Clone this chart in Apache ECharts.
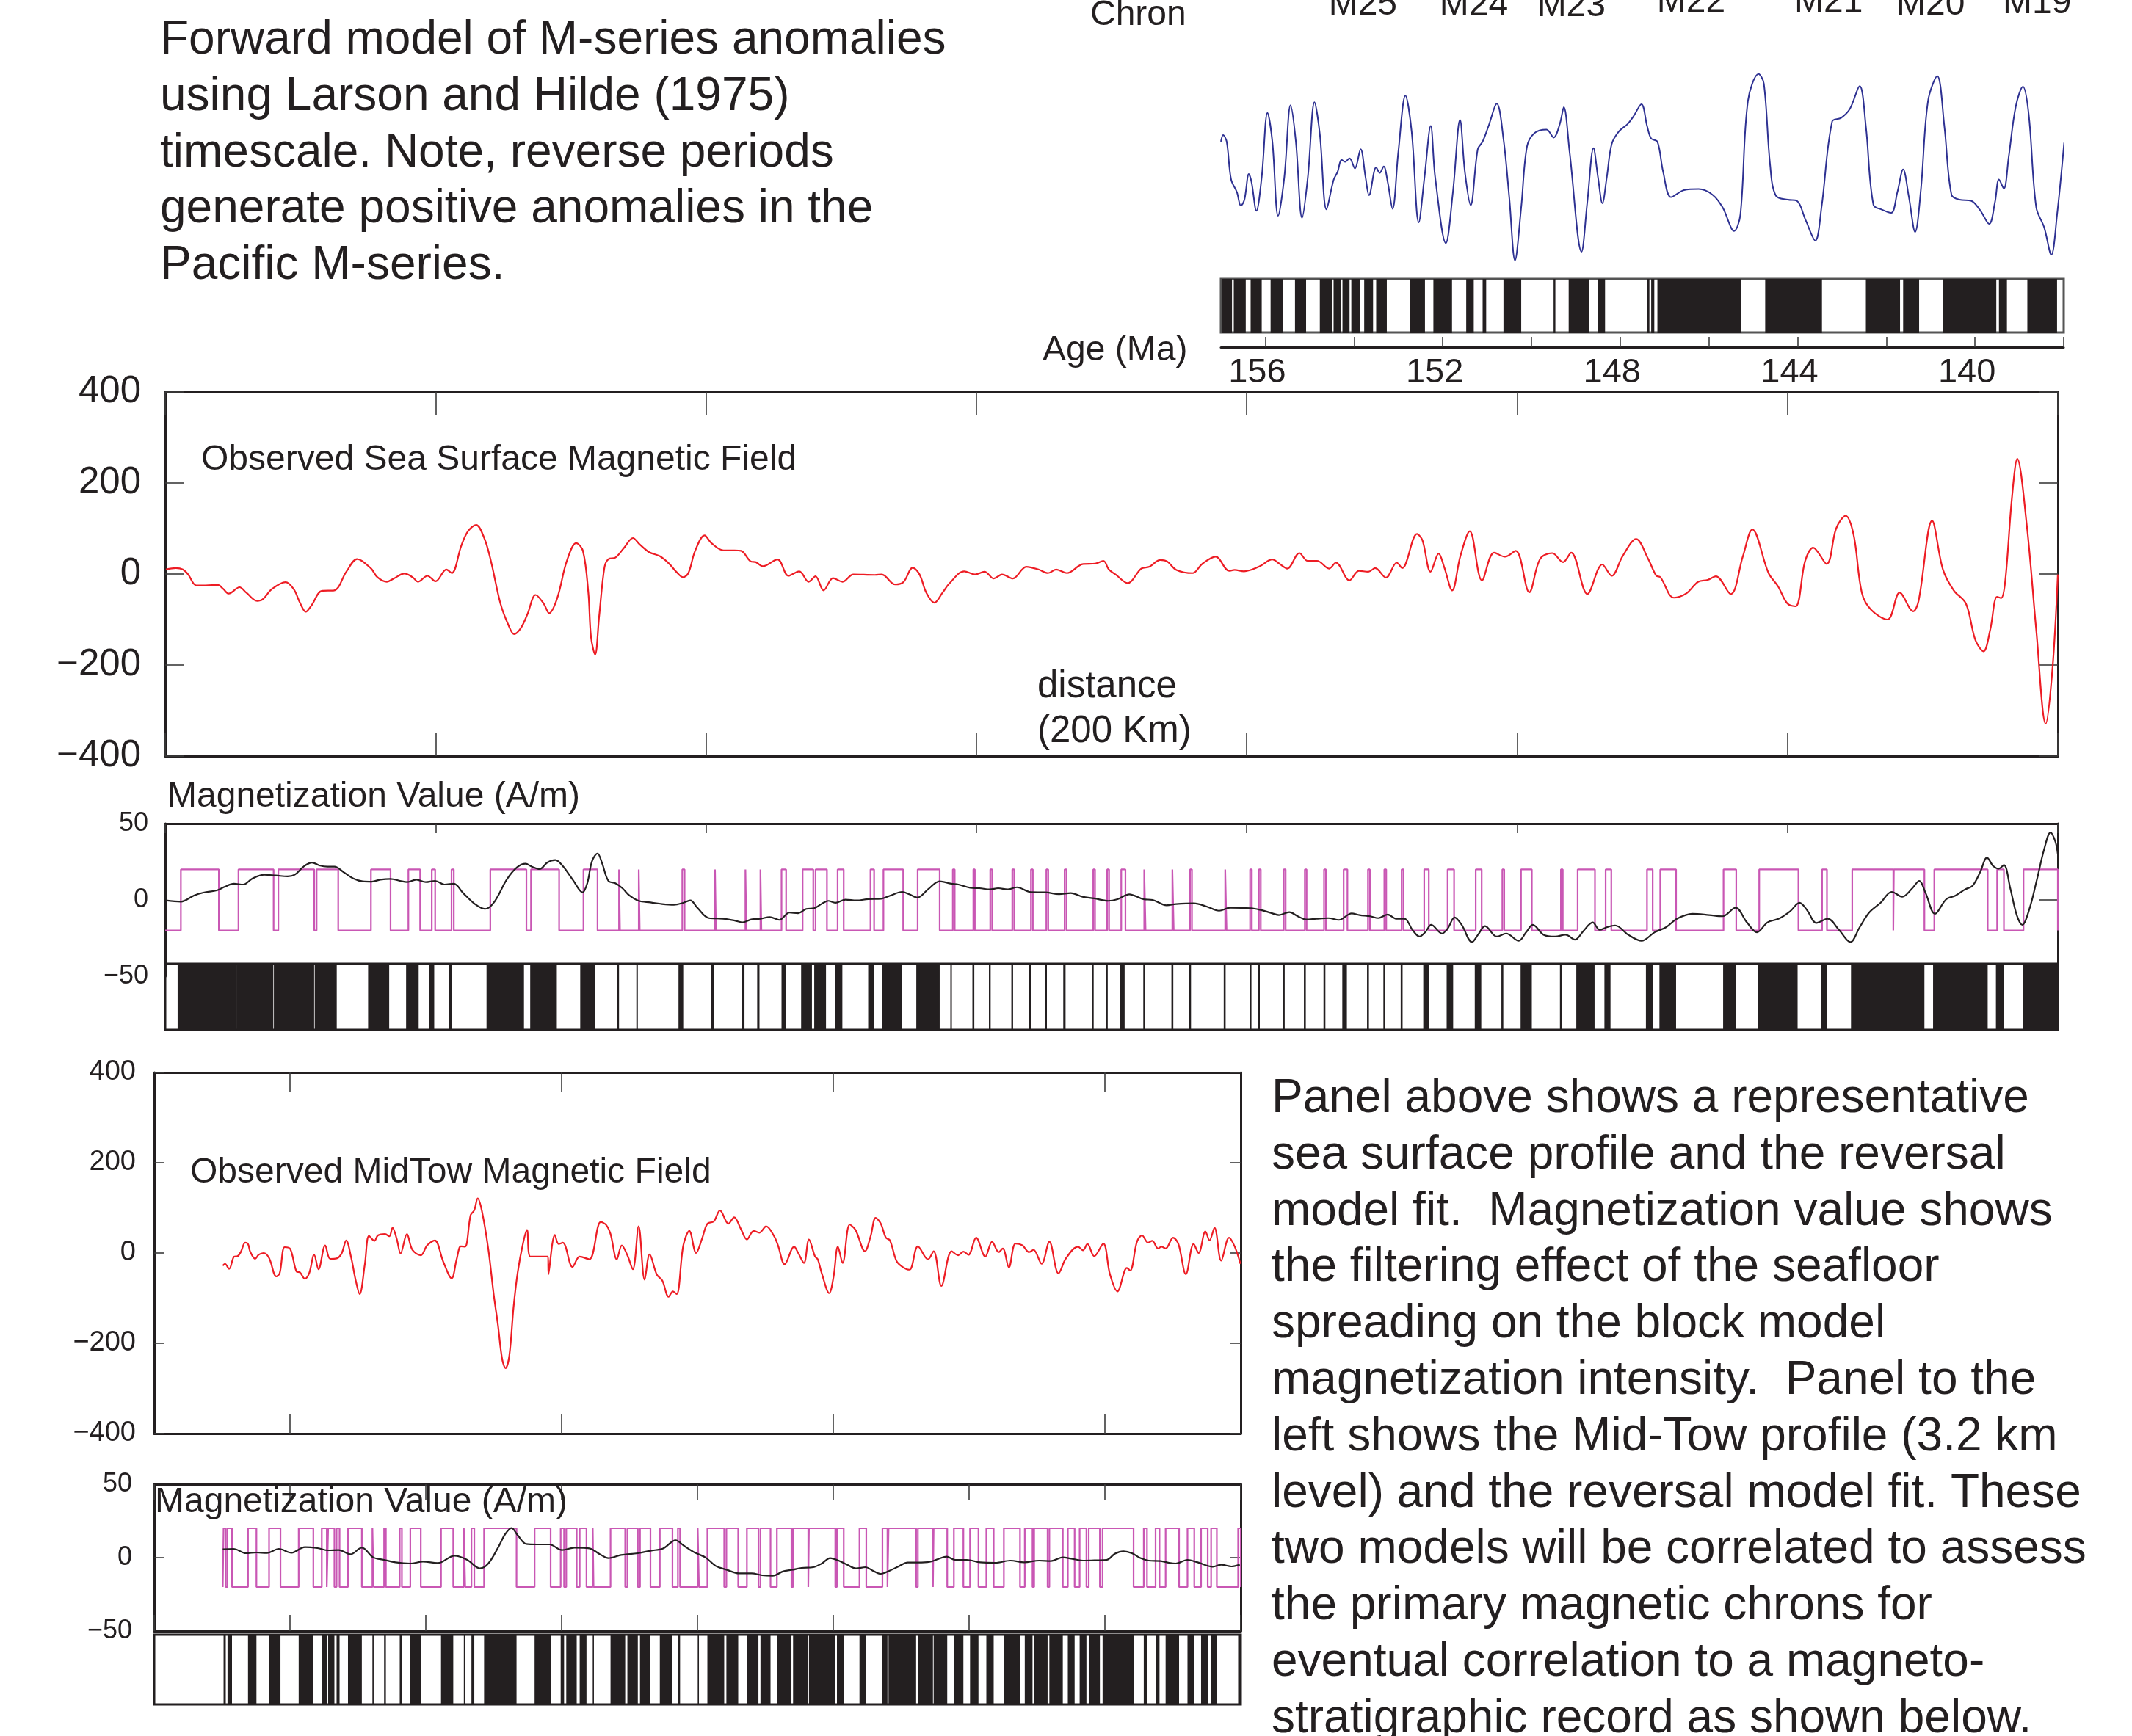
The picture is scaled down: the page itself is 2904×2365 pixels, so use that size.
<!DOCTYPE html>
<html>
<head>
<meta charset="utf-8">
<script src="https://cdn.jsdelivr.net/npm/echarts@6/dist/echarts.min.js"></script>
<style>
  html, body { margin: 0; padding: 0; background: #fff; }
  #chart { width: 2904px; height: 2365px; }
</style>
</head>
<body>
<div id="chart"></div>
<script>
// ---------------------------------------------------------------------------
// Data
// ---------------------------------------------------------------------------

// Chron names and their age positions (Ma) on the timescale strip
const chronNames = ['M25', 'M24', 'M23', 'M22', 'M21', 'M20', 'M19'];
const chronAges = [153.8, 151.3, 149.1, 146.4, 143.3, 141.0, 138.6];
const chronBaselineShift = [4, 5, 6, 0, 0, 4, 2];

// Age axis ticks (Ma)
const ageTicks = [138, 140, 142, 144, 146, 148, 150, 152, 154, 156];
const ageLabels = [140, 144, 148, 152, 156];

// Forward-model anomaly on the Larson & Hilde timescale: [age Ma, nT]
const modelAnomaly = [
  [157.00, 45], [156.95, 58], [156.87, 45], [156.77, -30], [156.64, -55], [156.55, -82],
  [156.47, -70], [156.37, -19], [156.31, -35], [156.20, -92], [156.08, -25], [155.95, 102],
  [155.84, 45], [155.71, -102], [155.57, -25], [155.43, 117], [155.31, 45], [155.17, -106],
  [155.04, -25], [154.89, 123], [154.77, 60], [154.62, -89], [154.46, -31], [154.37, -15],
  [154.28, 9], [154.20, 5], [154.10, 12], [153.98, -8], [153.85, 30], [153.74, -25],
  [153.66, -61], [153.50, -6], [153.42, -17], [153.33, -4], [153.24, -35], [153.13, -88],
  [153.00, 25], [152.84, 136], [152.70, 65], [152.54, -115], [152.41, -25], [152.27, 76],
  [152.17, -25], [151.93, -156], [151.77, -55], [151.61, 88], [151.50, -15], [151.37, -81],
  [151.21, 30], [151.10, 45], [150.97, 75], [150.78, 120], [150.63, 50], [150.50, -65],
  [150.37, -190], [150.23, -85], [150.10, 35], [149.93, 62], [149.66, 69], [149.50, 53],
  [149.36, 80], [149.27, 113], [149.14, 25], [148.87, -173], [148.74, -75], [148.60, 32],
  [148.50, -25], [148.40, -77], [148.30, -25], [148.19, 40], [148.03, 65], [147.83, 80],
  [147.70, 95], [147.52, 119], [147.39, 75], [147.30, 51], [147.16, 45], [147.03, -15],
  [146.85, -65], [146.56, -51], [146.23, -49], [145.92, -60], [145.69, -85], [145.43, -132],
  [145.29, -100], [145.12, 125], [144.88, 179], [144.76, 160], [144.62, 0], [144.49, -62],
  [144.22, -70], [144.02, -72], [143.82, -110], [143.60, -151], [143.46, -85], [143.22, 85],
  [143.02, 92], [142.82, 110], [142.60, 155], [142.46, 75], [142.29, -80], [142.09, -90],
  [141.89, -96], [141.75, -55], [141.62, -10], [141.49, -65], [141.35, -134], [141.22, -50],
  [141.06, 125], [140.85, 175], [140.69, 75], [140.53, -60], [140.35, -70], [140.09, -72],
  [139.89, -90], [139.68, -118], [139.55, -75], [139.46, -30], [139.35, -48], [139.24, 15],
  [139.08, 115], [138.92, 154], [138.79, 100], [138.62, -85], [138.44, -125], [138.28, -179],
  [138.15, -100], [137.99, 43]
];

// Reversed-polarity intervals of the timescale: [older Ma, younger Ma]
const timescaleReversed = [
  [156.97, 156.75], [156.71, 156.44], [156.33, 156.08], [155.88, 155.60], [155.33, 155.08],
  [154.77, 154.50], [154.46, 154.30], [154.26, 154.10], [154.06, 153.86], [153.77, 153.57],
  [153.50, 153.26], [152.74, 152.40], [152.21, 151.79], [151.47, 151.30], [151.10, 151.02],
  [150.63, 150.23], [149.50, 149.46], [149.16, 148.70], [148.50, 148.34], [147.39, 147.34],
  [147.30, 147.23], [147.16, 145.28], [144.73, 143.45], [142.46, 141.69], [141.62, 141.26],
  [140.73, 139.52], [139.46, 139.28], [138.82, 138.15]
];

// Sea-surface profile: [distance km, nT]
const seaSurfaceField = [
  [0.5, 10], [8, 13], [13, 10], [17, -1], [23, -25], [30, -25], [39, -24], [43, -33], [47, -43],
  [55, -29], [60, -41], [68, -59], [72, -56], [79, -33], [89, -18], [95, -33], [100, -65],
  [104, -83], [108, -70], [116, -37], [125, -36], [134, 5], [142, 33], [152, 13], [157, -7],
  [164, -17], [169, -10], [177, 1], [183, -7], [187, -17], [194, -4], [200, -16], [208, 10],
  [212, 2], [219, 62], [224, 94], [230, 108], [236, 79], [241, 28], [248, -65], [254, -113],
  [258, -132], [263, -119], [268, -88], [274, -46], [280, -65], [284, -86], [290, -53],
  [297, 28], [304, 68], [309, 51], [313, -41], [315, -139], [318, -177], [321, -93], [325, 16],
  [328, 33], [333, 36], [339, 56], [346, 79], [351, 65], [358, 48], [366, 39], [373, 22],
  [378, 5], [383, -7], [387, 2], [392, 51], [399, 85], [404, 68], [413, 52], [421, 52],
  [426, 51], [433, 28], [437, 26], [442, 17], [453, 32], [461, -4], [469, 6], [476, -17],
  [481, -5], [487, -36], [494, -9], [501, -17], [509, -1], [525, -2], [530, -1], [540, -23],
  [546, -18], [553, 14], [558, -1], [563, -41], [569, -63], [575, -41], [580, -21], [591, 6],
  [599, -1], [606, 5], [613, -10], [619, -1], [627, -10], [637, 16], [646, 10], [653, 2],
  [659, 10], [667, 2], [679, 22], [688, 23], [694, 29], [698, 10], [703, -1], [712, -20],
  [722, 12], [728, 16], [736, 31], [741, 28], [748, 9], [760, 2], [767, 22], [777, 38],
  [787, 7], [791, 9], [798, 6], [809, 16], [819, 32], [824, 23], [830, 12], [839, 46],
  [845, 29], [852, 29], [861, 12], [866, 25], [876, -14], [883, 7], [890, 5], [895, 13],
  [903, -8], [911, 25], [915, 13], [926, 88], [930, 74], [936, 5], [942, 45], [946, 16],
  [952, -36], [958, 39], [965, 94], [974, -14], [983, 47], [991, 38], [999, 51], [1009, -40],
  [1017, 33], [1026, 46], [1034, 26], [1040, 47], [1052, -44], [1063, 21], [1070, -4],
  [1078, 39], [1088, 77], [1097, 33], [1103, -4], [1106, -7], [1116, -52], [1125, -43],
  [1134, -17], [1141, -13], [1147, -5], [1158, -44], [1167, 39], [1174, 98], [1186, 2],
  [1193, -27], [1200, -65], [1206, -71], [1213, 28], [1219, 58], [1229, 22], [1236, 100],
  [1243, 128], [1249, 85], [1255, -41], [1262, -79], [1274, -100], [1283, -41], [1293, -82],
  [1297, -59], [1307, 117], [1315, 10], [1323, -36], [1332, -65], [1339, -145], [1345, -170],
  [1350, -122], [1355, -50], [1358, -53], [1361, -18], [1366, 166], [1370, 253], [1377, 108],
  [1384, -122], [1391, -329], [1396, -209], [1400, -1]
];

// Block model magnetization (A/m) of each reversed block
const blockMagnetization = 20;

// Sea-surface model: reversed blocks driving the magnetization [start km, end km]
const seaModelBlocks = [
  [11.6, 39.7], [54.2, 80.2], [83.7, 110.3], [112.0, 128.0], [152.2, 166.7], [179.9, 188.6],
  [197.2, 199.7], [211.8, 213.5], [240.5, 267.2], [270.6, 291.4], [309.4, 319.8], [335.7, 336.4],
  [350.3, 351.0], [382.5, 384.2], [406.7, 407.4], [429.2, 429.9], [440.3, 441.0], [455.9, 459.3],
  [471.5, 479.4], [481.1, 489.5], [497.4, 501.9], [521.7, 524.4], [531.3, 545.9], [556.6, 572.9],
  [582.6, 584.0], [597.8, 598.9], [610.3, 611.7], [626.6, 628.0], [640.4, 641.8], [651.8, 653.2],
  [665.3, 666.7], [686.5, 687.8], [696.8, 698.2], [707.2, 710.3], [724.2, 725.2], [745.0, 746.0],
  [758.1, 759.5], [784.1, 785.1], [802.5, 803.8], [809.0, 810.4], [827.4, 828.8], [843.0, 844.3],
  [857.2, 858.6], [871.7, 874.5], [889.7, 891.1], [901.8, 903.2], [914.6, 916.0], [931.3, 934.7],
  [948.6, 953.4], [969.4, 973.8], [989.1, 990.5], [1002.9, 1010.9], [1032.4, 1033.8],
  [1044.8, 1057.6], [1065.5, 1069.7], [1096.1, 1100.3], [1105.9, 1117.6], [1152.7, 1162.1],
  [1179.1, 1208.1], [1225.6, 1229.2], [1247.9, 1278.3], [1278.7, 1301.3], [1308.6, 1348.1],
  [1355.1, 1360.1], [1374.6, 1400]
];

// Sea-surface reversal strip [start km, end km]
const seaStripe = [
  [9.2, 52.3], [52.7, 80.0], [80.4, 110.2], [110.6, 126.9], [150.1, 165.7], [178.2, 187.5],
  [195.5, 199.0], [210.0, 211.8], [237.7, 265.4], [270.0, 289.7], [307.0, 318.1], [334.0, 335.7],
  [348.5, 349.6], [379.7, 383.2], [404.0, 405.7], [426.5, 428.5], [437.9, 439.6], [455.9, 459.3],
  [470.4, 478.4], [480.1, 488.8], [495.7, 500.9], [520.0, 524.4], [530.5, 545.2], [555.6, 572.9],
  [580.8, 581.9], [597.1, 598.5], [609.3, 610.6], [625.9, 627.2], [639.0, 640.4], [650.8, 652.2],
  [664.3, 666.0], [685.4, 686.8], [695.8, 697.2], [706.2, 709.7], [723.5, 724.9], [744.3, 745.7],
  [757.4, 758.8], [783.0, 784.4], [802.1, 803.5], [808.4, 809.7], [826.7, 828.1], [842.3, 843.7],
  [856.8, 858.2], [870.7, 874.1], [889.0, 890.4], [901.1, 902.5], [913.9, 915.3], [930.6, 934.7],
  [947.9, 952.7], [968.7, 973.5], [988.4, 989.8], [1002.6, 1010.9], [1031.7, 1033.4],
  [1043.8, 1057.3], [1064.6, 1069.1], [1095.3, 1100.3], [1105.3, 1117.6], [1152.4, 1161.6],
  [1178.3, 1207.5], [1224.8, 1229.2], [1247.0, 1301.3], [1307.7, 1348.1], [1354.2, 1360.1],
  [1374.0, 1400]
];

// Filtered magnetization for the sea-surface profile: [km, A/m]
const seaFilteredMag = [
  [0.5, -0.3], [11.6, -1.1], [21.3, 2.9], [28.3, 4.8], [38.6, 6.4], [43.8, 8.5], [50.8, 10.6],
  [57.7, 10.1], [64.6, 14.1], [73.3, 16.5], [81.9, 16.0], [90.6, 15.4], [95.8, 16.5], [102.7, 22.1],
  [108.6, 24.5], [114.1, 22.6], [120, 21.8], [125.2, 21.8], [132.1, 18.1], [139.1, 14.1],
  [146, 12.2], [152.9, 12.0], [159.1, 13.3], [166.7, 13.8], [173.7, 12.5], [178.9, 11.7],
  [185.8, 13.3], [192.7, 11.7], [199.7, 12.5], [206.6, 10.1], [213.5, 10.6], [220.4, 4.5],
  [229.1, -2.7], [236.7, -5.9], [243.6, -1.1], [252.6, 13.3], [260.2, 21.3], [266.5, 23.7],
  [271.3, 21.8], [276.9, 20.2], [282.7, 24.5], [288.6, 26.1], [294.2, 22.1], [301.8, 12.8],
  [308.7, 5.0], [312.2, 10.9], [315.7, 25.3], [319.8, 30.4], [323.3, 23.7], [327.8, 12.5],
  [333, 10.9], [338.2, 7.7], [343.4, 2.9], [350.3, -0.6], [359, -1.6], [367.6, -2.7],
  [376.3, -3.2], [383.2, -1.9], [388.4, -0.3], [393.6, -5.1], [402.2, -11.9], [412.6, -12.3],
  [421.3, -13.5], [427.2, -14.7], [433.4, -12.8], [440.3, -12.3], [447.2, -11.2], [454.2, -13.1],
  [461.8, -8.3], [468, -8.7], [474.2, -5.9], [480.1, -5.4], [485.3, -2.7], [490.5, -0.6],
  [495.7, -1.9], [503.3, 0.2], [511.3, -0.3], [519.9, 0.5], [529.6, 0.8], [536.5, 2.9],
  [545.2, 5.3], [550.4, 3.7], [556.6, 1.6], [564.2, 6.9], [572.9, 12.2], [581.5, 10.6],
  [586.7, 10.1], [595.4, 8.0], [602.3, 7.7], [609.9, 6.9], [616.2, 7.7], [623.1, 6.9],
  [630, 8.3], [640.4, 5.1], [650.8, 5.0], [661.2, 3.8], [669.8, 4.5], [678.5, 2.1], [687.2, 1.0],
  [697.5, -0.6], [704.5, 0.5], [713.1, 3.7], [723.5, 0.5], [730.4, 0], [740.8, -3.5],
  [747.7, -2.7], [760.9, -2.2], [770.3, -4.3], [779.6, -7.1], [787.6, -5.1], [803.2, -5.4],
  [810.8, -6.7], [818.7, -8.7], [823.9, -9.9], [831.5, -8.0], [837.8, -10.7], [844, -12.8],
  [851.6, -12.3], [860.3, -11.9], [868.2, -13.1], [877.6, -8.8], [883.5, -9.9], [891.4, -10.7],
  [897.3, -11.9], [904.3, -9.6], [910.5, -12.3], [916.7, -12.3], [922.6, -19.6], [927.8, -24.0],
  [932, -21.2], [936.5, -16.3], [944.4, -22.0], [948.6, -18.8], [953.8, -11.5], [959, -16.3],
  [966.6, -27.6], [971.1, -22.8], [976.3, -17.1], [985, -24.0], [991.9, -22.0], [1001.2, -26.8],
  [1006.7, -21.2], [1011.6, -16.3], [1019.6, -22.8], [1028.2, -24.0], [1035.8, -22.8],
  [1042.8, -26.0], [1049, -20.4], [1055.9, -14.7], [1061.1, -19.6], [1066.3, -17.9],
  [1072.5, -16.7], [1082.2, -22.8], [1092, -26.8], [1101.7, -21.2], [1110.1, -17.9],
  [1118.4, -12.3], [1129.6, -9.1], [1142.1, -9.9], [1151.8, -10.7], [1161.6, -5.1],
  [1170, -14.7], [1177.4, -21.2], [1185.2, -14.7], [1193.6, -12.3], [1201.9, -7.5],
  [1208.9, -1.9], [1214.5, -6.7], [1221.4, -15.1], [1229.8, -12.3], [1238.1, -19.6],
  [1246.5, -27.6], [1253.4, -17.9], [1260.4, -8.3], [1268.8, -1.9], [1277.1, 5.3], [1284.9, 2.1],
  [1292.4, 7.7], [1297.4, 12.5], [1302.2, 4.5], [1309.1, -9.1], [1317.5, 0.5], [1324.4, 2.9],
  [1331.4, 6.9], [1336.9, 9.3], [1342.5, 18.1], [1347.6, 27.7], [1352.3, 22.1], [1356.4, 20.5],
  [1360.1, 22.9], [1364.8, 7.7], [1369.6, -9.9], [1373.7, -16.3], [1378.7, -6.7], [1384.3, 12.5],
  [1389.9, 33.3], [1394.6, 44.2], [1398.2, 38.1], [1400, 30.0]
];

// Mid-tow profile (3.2 km level): [distance km, nT]
const midTowField = [
  [50.5, -28], [52.1, -24], [55.2, -35], [58.9, -8], [61.4, -7], [63.9, 3], [67, 23], [69.1, 20],
  [70.7, 3], [74.4, -13], [76.9, -4], [80.6, 0], [84.6, -11], [89.9, -52], [92.4, -45], [96.1, 13],
  [100.2, 9], [104.8, -41], [107.3, -43], [111, -57], [114.1, -45], [117.8, -4], [121, -36],
  [125.9, 17], [129.6, -13], [134.3, -12], [138, -1], [141.4, 28], [145.1, -11], [148.2, -58],
  [151.3, -91], [155.1, -25], [158.2, 38], [162.2, 27], [164.7, 39], [170, 42], [173.1, 37],
  [175.5, 56], [178.6, 31], [181.4, -1], [186.1, 42], [190.1, 7], [196.3, -5], [201, 17],
  [206.6, 28], [212.8, -19], [219, -56], [222.7, -14], [225.8, 15], [228.9, 14], [233, 84],
  [235.7, 95], [238.2, 121], [241.3, 93], [246, 9], [250, -92], [253.1, -159], [256.2, -235],
  [258.7, -255], [261.5, -227], [264.6, -120], [267.7, -42], [271.7, 23], [274.5, 51], [277, -8],
  [290, -8], [290.3, -47], [295, 40], [297.8, 20], [300.9, 23], [308, -31], [313.3, -8],
  [320.4, -14], [328.8, 69], [332.8, 62], [336, 42], [340.6, -14], [344.3, 17], [348.4, -5],
  [352.4, -36], [356.7, 59], [361.1, -59], [364.8, -3], [370.1, -48], [374.1, -61], [378.8, -97],
  [381.9, -85], [384.7, -91], [389.6, 17], [394, 49], [399, 0], [403.3, 31], [407.3, 65],
  [412, 70], [416.6, 94], [422.8, 65], [427, 79], [432, 53], [436.4, 30], [441.4, 49],
  [445.6, 45], [450.6, 59], [456.3, 38], [459.3, 17], [464.2, -25], [471.2, 14], [474.2, 0],
  [478.4, -22], [482.1, 30], [486.6, -8], [488.6, -14], [491.5, -45], [497, -89], [500.2, -53],
  [503.4, 14], [506.9, -22], [512.1, 63], [516.4, 51], [523.3, 4], [527.5, 37], [531.2, 78],
  [535, 65], [538.7, 34], [541.7, 28], [546.6, -18], [551.1, -31], [556.1, -37], [562.3, 15],
  [569.7, -14], [573.9, 4], [579.6, -73], [587.1, 4], [592, -5], [595.8, 3], [599.5, -4],
  [605.2, 34], [611.9, -8], [616.9, 25], [621.8, 2], [624.8, 10], [629.3, -32], [634.2, 21],
  [639.2, 17], [644.2, 2], [647.4, 7], [653.4, -24], [659.1, 25], [665.8, -45], [671.5, -11],
  [680.2, 14], [683.9, 6], [687.1, 20], [692.1, -7], [698.8, 21], [703.7, -47], [709.2, -85],
  [716.2, -33], [718.6, -39], [723.6, 25], [727.3, 39], [731.8, 23], [734.8, 27], [739.2, 10],
  [741.7, 14], [744.7, 10], [750.2, 34], [754.1, 20], [759.6, -47], [765.3, 20], [769, 0],
  [774, 48], [777, 28], [780.7, 56], [785.6, -17], [791.4, 34], [795.6, 14], [799.8, -24]
];

// Mid-tow model: reversed blocks [start km, end km]
const midTowBlocks = [
  [51.1, 52.7], [54.0, 57.3], [69.1, 75.3], [84.6, 93.0], [106.4, 117.2], [123.4, 127.1],
  [128.1, 132.7], [134.3, 136.5], [142.7, 152.9], [160.7, 161.6], [169.3, 170.6], [180.8, 182.4],
  [188.6, 196.3], [211.2, 220.2], [228.0, 229.0], [233.6, 235.7], [242.9, 266.8], [280.1, 291.9],
  [299.3, 301.8], [303.4, 311.1], [313.3, 318.3], [322.9, 323.5], [336.0, 346.8], [348.4, 356.1],
  [357.7, 365.4], [372.3, 381.6], [385.6, 387.2], [400.2, 401.1], [407.3, 419.7], [421.3, 430.0],
  [436.4, 444.9], [446.4, 453.8], [458.5, 469.2], [470.4, 481.6], [482.1, 501.5], [502.7, 507.7],
  [519.3, 524.3], [536.2, 539.9], [540.7, 561.0], [562.3, 573.4], [573.9, 583.9], [588.8, 595.8],
  [600.7, 606.9], [612.7, 618.1], [625.6, 637.5], [641.0, 646.7], [647.9, 657.8], [659.1, 669.0],
  [672.7, 677.7], [681.4, 686.4], [688.1, 696.3], [698.3, 721.1], [728.6, 731.0], [737.3, 740.2],
  [744.7, 754.6], [760.8, 765.8], [770.8, 775.7], [778.2, 782.4], [798.1, 800]
];

// Filtered magnetization for the mid-tow profile: [km, A/m]
const midTowFilteredMag = [
  [50.5, 5.7], [58.3, 6], [67.6, 3], [75.3, 3.5], [83.1, 3.2], [91.8, 6], [101.1, 3.3], [111, 7.2],
  [120.3, 6.5], [128.1, 5], [135.8, 5.2], [144.5, 2.3], [152.9, 6.8], [161.3, 0.2], [169.3, -1.5],
  [177.7, -3.2], [188.6, -4], [197.9, -2.7], [208.7, -3.7], [221.2, 1.3], [230.5, -1.5],
  [239.8, -7.3], [246, -4], [253.7, 7.7], [258.4, 16], [263.1, 20.2], [267.7, 15.2], [273.9, 9.3],
  [281.7, 9], [291, 9], [300.3, 5.2], [309.6, 6.8], [320.4, 6.3], [328.2, 2.3], [334.4, -0.3],
  [343.7, 1.8], [356.1, 3], [365.4, 4.7], [374.7, 6.3], [383.9, 11.8], [390.2, 8], [397.9, 3.5],
  [405.8, 0.2], [413.5, -5.7], [421.3, -8.2], [430.6, -10.7], [439.9, -10.7], [447.6, -12],
  [455.4, -12.3], [463.2, -9.3], [470.3, -8.2], [476.6, -7], [485.3, -6.5], [491.5, -4],
  [497.7, -0.3], [503.9, -2], [510.1, -4.8], [516.8, -7.3], [523.8, -6.5], [528.8, -8.7],
  [535, -11], [541.2, -9], [548.6, -5.7], [554.8, -3.3], [562.3, -3.3], [571, -2.8], [577.2, -1],
  [583.4, 0.7], [589.6, -1.5], [598.3, -1.5], [608.2, -3.2], [619.4, -3.5], [630.5, -2],
  [640.5, -3.2], [651.6, -2], [660.3, -2.3], [669, 0.2], [675.2, -0.7], [685.1, -2],
  [693.8, -1.8], [701.3, -1.5], [707.5, 2.7], [713.7, 4.3], [719.9, 3], [726.1, -0.3],
  [732.3, -2], [741, -2.3], [747.2, -3.5], [752.1, -4], [760.8, -1.5], [768.3, -3.2],
  [779.4, -6.2], [785.7, -4.8], [793.1, -6], [799.3, -4.8]
];

// ---------------------------------------------------------------------------
// Styling
// ---------------------------------------------------------------------------
const INK = '#231f20';
const FONT = '"Liberation Sans", Arial, Helvetica, sans-serif';
const RED = '#ed1c24';
const BLUE = '#2e3192';
const PINK = '#c957b4';

const minusFmt = v => (v < 0 ? '\u2212' + Math.abs(v) : String(v));

// Step trace of the block model: low outside blocks, high inside
function squareWave(blocks, x0, x1, amp) {
  const pts = [[x0, -amp]];
  blocks.forEach(([a, b]) => {
    pts.push([a, -amp], [a, amp], [b, amp], [b, -amp]);
  });
  pts.push([x1, -amp]);
  return pts;
}

function stripeItem(params, api) {
  const p0 = api.coord([api.value(0), 1]);
  const p1 = api.coord([api.value(1), 0]);
  const x = Math.min(p0[0], p1[0]);
  const w = Math.max(Math.abs(p1[0] - p0[0]), 1.6);
  return {
    type: 'rect',
    shape: { x: x, y: p0[1], width: w, height: p1[1] - p0[1] },
    style: { fill: INK }
  };
}

const stripeData = blocks => blocks.map(([a, b]) => [a, b, 0.5]);

function boxAxisLine(width) {
  return { show: true, onZero: false, lineStyle: { color: INK, width: width } };
}
function tickStyle(len, extra) {
  return Object.assign({ show: true, inside: true, length: len, lineStyle: { color: '#3b3b3b', width: 1.6 } }, extra || {});
}
function hiddenAxis(gridIndex, min, max, inverse) {
  return { gridIndex, type: 'value', min, max, inverse: !!inverse, show: false, splitLine: { show: false } };
}

// ---------------------------------------------------------------------------
// Layout (px)
// ---------------------------------------------------------------------------
const grids = [
  { left: 1663, top: 100, width: 1148, height: 255 },                        // 0 model anomaly
  { left: 1663, top: 380, width: 1148, height: 73, show: true,               // 1 timescale strip
    borderColor: '#555', borderWidth: 3, backgroundColor: '#fff' },
  { left: 225, top: 534, width: 2578, height: 496 },                         // 2 sea surface
  { left: 225, top: 1122, width: 2578, height: 208 },                        // 3 magnetization (sea)
  { left: 225, top: 1313, width: 2578, height: 90, show: true,               // 4 strip (sea)
    borderColor: INK, borderWidth: 3, backgroundColor: '#fff' },
  { left: 210, top: 1461, width: 1480, height: 492 },                        // 5 mid-tow
  { left: 210, top: 2022, width: 1480, height: 200 },                        // 6 magnetization (mid-tow)
  { left: 210, top: 2227, width: 1480, height: 95, show: true,               // 7 strip (mid-tow)
    borderColor: INK, borderWidth: 3, backgroundColor: '#fff' }
];

const xAxes = [
  hiddenAxis(0, 138, 157, true),                                              // 0
  { gridIndex: 1, type: 'value', min: 138, max: 157, inverse: true, interval: 2,  // 1 age axis
    position: 'bottom', offset: 20,
    axisLine: boxAxisLine(3),
    axisTick: tickStyle(14, { customValues: ageTicks }),
    axisLabel: { customValues: ageLabels, fontFamily: FONT, fontSize: 47, color: INK, margin: 8,
      padding: [4, 22, 0, 0],
      formatter: v => (ageLabels.indexOf(v) >= 0 ? String(v) : '') },
    splitLine: { show: false } },
  { gridIndex: 2, type: 'value', min: 0, max: 1400, interval: 200, position: 'bottom', // 2
    axisLine: boxAxisLine(3), axisTick: tickStyle(31), axisLabel: { show: false }, splitLine: { show: false } },
  { gridIndex: 2, type: 'value', min: 0, max: 1400, interval: 200, position: 'top',    // 3
    axisLine: boxAxisLine(3), axisTick: tickStyle(31), axisLabel: { show: false }, splitLine: { show: false } },
  { gridIndex: 3, type: 'value', min: 0, max: 1400, interval: 200, position: 'top',    // 4
    axisLine: boxAxisLine(3), axisTick: tickStyle(13), axisLabel: { show: false }, splitLine: { show: false } },
  hiddenAxis(4, 0, 1400),                                                     // 5
  { gridIndex: 5, type: 'value', min: 0, max: 800, interval: 100, position: 'bottom',  // 6
    axisLine: boxAxisLine(3), axisTick: tickStyle(26, { customValues: [100, 300, 500, 700] }),
    axisLabel: { show: false }, splitLine: { show: false } },
  { gridIndex: 5, type: 'value', min: 0, max: 800, interval: 100, position: 'top',     // 7
    axisLine: boxAxisLine(3), axisTick: tickStyle(26, { customValues: [100, 300, 500, 700] }),
    axisLabel: { show: false }, splitLine: { show: false } },
  { gridIndex: 6, type: 'value', min: 0, max: 800, interval: 100, position: 'top',     // 8
    axisLine: boxAxisLine(3), axisTick: tickStyle(22), axisLabel: { show: false }, splitLine: { show: false } },
  { gridIndex: 6, type: 'value', min: 0, max: 800, interval: 100, position: 'bottom',  // 9
    axisLine: boxAxisLine(3), axisTick: tickStyle(22), axisLabel: { show: false }, splitLine: { show: false } },
  hiddenAxis(7, 0, 800)                                                       // 10
];

const yAxes = [
  hiddenAxis(0, -190.5, 180),                                                 // 0
  hiddenAxis(1, 0, 1),                                                        // 1
  { gridIndex: 2, type: 'value', min: -400, max: 400, interval: 200, position: 'left', // 2
    axisLine: boxAxisLine(3), axisTick: tickStyle(26),
    axisLabel: { fontFamily: FONT, fontSize: 51, color: INK, margin: 33, padding: [11, 0, 0, 0],
      formatter: minusFmt },
    splitLine: { show: false } },
  { gridIndex: 2, type: 'value', min: -400, max: 400, interval: 200, position: 'right', // 3
    axisLine: boxAxisLine(3), axisTick: tickStyle(26), axisLabel: { show: false }, splitLine: { show: false } },
  { gridIndex: 3, type: 'value', min: -50, max: 50, interval: 50, position: 'left',    // 4
    axisLine: boxAxisLine(3), axisTick: { show: false },
    axisLabel: { fontFamily: FONT, fontSize: 36, color: INK, margin: 23, formatter: minusFmt },
    splitLine: { show: false } },
  { gridIndex: 3, type: 'value', min: -50, max: 50, interval: 50, position: 'right',   // 5
    axisLine: boxAxisLine(3), axisTick: tickStyle(26, { customValues: [0] }),
    axisLabel: { show: false }, splitLine: { show: false } },
  hiddenAxis(4, 0, 1),                                                        // 6
  { gridIndex: 5, type: 'value', min: -400, max: 400, interval: 200, position: 'left', // 7
    axisLine: boxAxisLine(3), axisTick: tickStyle(14),
    axisLabel: { fontFamily: FONT, fontSize: 38, color: INK, margin: 25, padding: [8, 0, 0, 0],
      formatter: minusFmt },
    splitLine: { show: false } },
  { gridIndex: 5, type: 'value', min: -400, max: 400, interval: 200, position: 'right', // 8
    axisLine: boxAxisLine(3), axisTick: tickStyle(15), axisLabel: { show: false }, splitLine: { show: false } },
  { gridIndex: 6, type: 'value', min: -50, max: 50, interval: 50, position: 'left',    // 9
    axisLine: boxAxisLine(3), axisTick: tickStyle(14, { customValues: [0] }),
    axisLabel: { fontFamily: FONT, fontSize: 36, color: INK, margin: 30, formatter: minusFmt },
    splitLine: { show: false } },
  { gridIndex: 6, type: 'value', min: -50, max: 50, interval: 50, position: 'right',   // 10
    axisLine: boxAxisLine(3), axisTick: tickStyle(15, { customValues: [0] }),
    axisLabel: { show: false }, splitLine: { show: false } },
  hiddenAxis(7, 0, 1)                                                         // 11
];

function lineSeries(xi, yi, data, color, width, smooth) {
  return {
    type: 'line', xAxisIndex: xi, yAxisIndex: yi, data: data,
    showSymbol: false, symbol: 'none', smooth: smooth, clip: true,
    lineStyle: { color: color, width: width }, silent: true
  };
}
function stripeSeries(xi, yi, blocks) {
  return {
    type: 'custom', xAxisIndex: xi, yAxisIndex: yi, renderItem: stripeItem,
    data: stripeData(blocks), encode: { x: [0, 1], y: 2 }, clip: true, silent: true
  };
}

const series = [
  lineSeries(0, 0, modelAnomaly, BLUE, 2, 0.35),
  stripeSeries(1, 1, timescaleReversed),
  lineSeries(2, 2, seaSurfaceField, RED, 2.2, 0.35),
  lineSeries(4, 4, squareWave(seaModelBlocks, 0, 1400, blockMagnetization), PINK, 2.2, false),
  lineSeries(4, 4, seaFilteredMag, INK, 2.2, 0.35),
  stripeSeries(5, 6, seaStripe),
  lineSeries(6, 7, midTowField, RED, 2.2, 0.35),
  lineSeries(8, 9, squareWave(midTowBlocks, 50.5, 800, blockMagnetization), PINK, 2.2, false),
  lineSeries(8, 9, midTowFilteredMag, INK, 2.2, 0.35),
  stripeSeries(10, 11, midTowBlocks)
];

// ---------------------------------------------------------------------------
// Text
// ---------------------------------------------------------------------------
function txt(x, y, text, size, align, vAlign, lineHeight) {
  const style = {
    text: text, x: 0, y: 0, fill: INK,
    font: 'normal ' + size + 'px ' + FONT,
    align: align || 'left', textAlign: align || 'left',
    verticalAlign: vAlign || 'middle', textVerticalAlign: vAlign || 'middle'
  };
  if (lineHeight) style.lineHeight = lineHeight;
  return { type: 'text', x: x, y: y, silent: true, z: 50, style: style };
}

const headline = [
  'Forward model of M-series anomalies',
  'using Larson and Hilde (1975)',
  'timescale. Note, reverse periods',
  'generate positive anomalies in the',
  'Pacific M-series.'
].join('\n');

const caption = [
  'Panel above shows a representative',
  'sea surface profile and the reversal',
  'model fit.  Magnetization value shows',
  'the filtering effect of the seafloor',
  'spreading on the block model',
  'magnetization intensity.  Panel to the',
  'left shows the Mid-Tow profile (3.2 km',
  'level) and the reversal model fit. These',
  'two models will be correlated to assess',
  'the primary magnetic chrons for',
  'eventual correlation to a magneto-',
  'stratigraphic record as shown below.'
].join('\n');

const ageToPx = a => 1663 + (157 - a) * (1148 / 19);

const graphics = [
  txt(218, 17, headline, 64, 'left', 'top', 76.8),
  txt(1732, 1459, caption, 64, 'left', 'top', 76.8),
  txt(1485, 21, 'Chron', 48),
  txt(1420, 478, 'Age (Ma)', 48),
  txt(274, 627, 'Observed Sea Surface Magnetic Field', 48),
  txt(1413, 936, 'distance', 51),
  txt(1413, 997, '(200 Km)', 51),
  txt(228, 1086, 'Magnetization Value (A/m)', 48),
  txt(259, 1598, 'Observed MidTow Magnetic Field', 48),
  txt(211, 2047, 'Magnetization Value (A/m)', 48)
];
chronNames.forEach((name, i) => {
  graphics.push(txt(ageToPx(chronAges[i]), chronBaselineShift[i] + 3, name, 48, 'center'));
});

const chart = echarts.init(document.getElementById('chart'), null, { renderer: 'canvas', width: 2904, height: 2365 });
chart.setOption({
  backgroundColor: '#ffffff',
  animation: false,
  grid: grids,
  xAxis: xAxes,
  yAxis: yAxes,
  series: series,
  graphic: { elements: graphics }
});
</script>
</body>
</html>
